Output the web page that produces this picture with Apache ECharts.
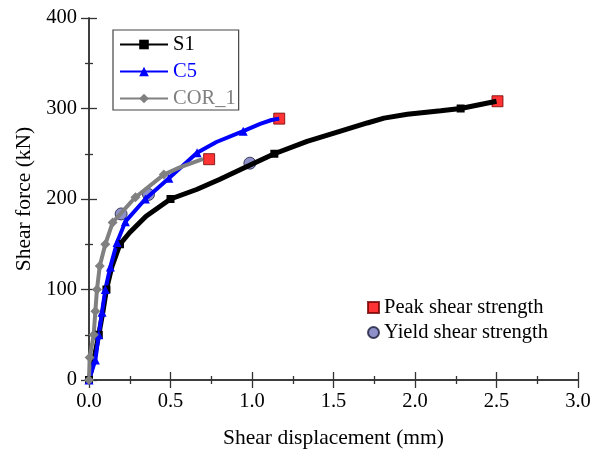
<!DOCTYPE html>
<html>
<head>
<meta charset="utf-8">
<script src="https://cdn.jsdelivr.net/npm/echarts@6/dist/echarts.min.js"></script>
<style>
  html, body { margin: 0; padding: 0; background: #fff; }
  #chart { width: 594px; height: 454px; }
</style>
</head>
<body>
<div id="chart"></div>
<script>
// curve points (mm, kN)
const s1X = [0, 0.035, 0.06, 0.085, 0.107, 0.14, 0.19, 0.25, 0.35, 0.5, 0.66, 0.8, 0.93, 1.137, 1.338, 1.543, 1.707, 1.81, 1.953, 2.158, 2.28, 2.5]
const s1Y = [0, 27, 50, 75, 100, 125, 150, 163, 181, 200, 210.5, 221.5, 232.5, 250, 263.7, 275, 284, 289.4, 293.6, 297.5, 300, 308]
const s1Marked = [0, 2, 4, 6, 9, 13, 20]

const c5X = [0, 0.039, 0.06, 0.08, 0.1, 0.131, 0.172, 0.223, 0.346, 0.49, 0.663, 0.782, 0.946, 1.05, 1.12, 1.167]
const c5Y = [0, 22, 50, 75, 100, 125, 152, 175, 200, 223, 251, 263, 275, 283, 287.3, 288.8]
const c5Marked = [0, 1, 2, 3, 4, 5, 6, 7, 8, 9, 10, 12]

const corX = [0, 0.004, 0.029, 0.039, 0.049, 0.066, 0.1, 0.145, 0.285, 0.459, 0.557, 0.68, 0.7]
const corY = [0, 25, 50, 76, 100, 126, 150, 174, 202, 227, 235, 243, 244]
const corMarked = [0, 1, 2, 3, 4, 5, 6, 7, 8, 9]

const peakX = [2.506, 1.167, 0.737]
const peakY = [308, 288.8, 244]
const yieldX = [0.987, 0.365, 0.197]
const yieldY = [239.6, 205, 183.5]

const xTicks = [0, 0.5, 1.0, 1.5, 2.0, 2.5, 3.0]
const yTicks = [0, 100, 200, 300, 400]

const FONT = 'Liberation Serif'

function curve(xs, ys, marked) {
  return xs.map((x, i) => marked.indexOf(i) >= 0 ? [x, ys[i]] : { value: [x, ys[i]], symbol: 'none' })
}

const axisLine = { show: true, lineStyle: { color: '#333', width: 1.5 } }
const tick = { show: true, length: 8, lineStyle: { color: '#333', width: 1.3 } }
const minor = { show: true, splitNumber: 2, length: 4, lineStyle: { color: '#333', width: 1.3 } }

const chart = echarts.init(document.getElementById('chart'))

chart.setOption({
  animation: false,
  grid: { left: 89, right: 16, top: 18, bottom: 72 },
  xAxis: [
    {
      type: 'value', min: xTicks[0], max: xTicks[xTicks.length - 1], interval: 0.5,
      axisLine, axisTick: tick, minorTick: minor, splitLine: { show: false },
      axisLabel: { margin: 11, color: '#000', fontFamily: FONT, fontSize: 20.5, formatter: v => v.toFixed(1) },
      name: 'Shear displacement (mm)', nameLocation: 'middle', nameGap: 47,
      nameTextStyle: { color: '#000', fontFamily: FONT, fontSize: 21.5 }
    },
    {
      type: 'value', position: 'top', min: 0, max: 3, interval: 0.5,
      axisLine, axisTick: tick, minorTick: minor, splitLine: { show: false },
      axisLabel: { show: false }
    }
  ],
  yAxis: [
    {
      type: 'value', min: yTicks[0], max: yTicks[yTicks.length - 1], interval: 100,
      axisLine, axisTick: tick, minorTick: minor, splitLine: { show: false },
      axisLabel: { margin: 12, color: '#000', fontFamily: FONT, fontSize: 20.5 },
      name: 'Shear force (kN)', nameLocation: 'middle', nameGap: 52,
      nameTextStyle: { color: '#000', fontFamily: FONT, fontSize: 21.5 }
    },
    {
      type: 'value', position: 'right', min: 0, max: 400, interval: 100,
      axisLine, axisTick: tick, minorTick: minor, splitLine: { show: false },
      axisLabel: { show: false }
    }
  ],
  legend: [
    {
      orient: 'vertical', left: 113, top: 30,
      padding: [4, 3, 1, 6], itemGap: 6, itemWidth: 48, itemHeight: 12, itemTextGap: 3,
      borderColor: '#444', borderWidth: 1.2,
      textStyle: { fontFamily: FONT, fontSize: 20.5 },
      data: [
        { name: 'S1', textStyle: { color: '#000' } },
        { name: 'C5', textStyle: { color: '#0000ff' } },
        { name: 'COR_1', textStyle: { color: '#808080' } }
      ]
    },
    {
      orient: 'vertical', left: 367, top: 297,
      itemGap: 4, itemWidth: 11, itemHeight: 11, itemTextGap: 7, padding: 0,
      textStyle: { fontFamily: FONT, fontSize: 20.5, color: '#000' },
      data: ['Peak shear strength', 'Yield shear strength']
    }
  ],
  series: [
    {
      name: 'S1', type: 'line', clip: false,
      symbol: 'rect', symbolSize: 8,
      lineStyle: { color: '#000', width: 5 }, itemStyle: { color: '#000' },
      data: curve(s1X, s1Y, s1Marked)
    },
    {
      name: 'C5', type: 'line', clip: false,
      symbol: 'triangle', symbolSize: 9,
      lineStyle: { color: '#0000ff', width: 4 }, itemStyle: { color: '#0000ff' },
      data: curve(c5X, c5Y, c5Marked)
    },
    {
      name: 'COR_1', type: 'line', clip: false,
      symbol: 'diamond', symbolSize: 10,
      lineStyle: { color: '#808080', width: 4 }, itemStyle: { color: '#808080' },
      data: curve(corX, corY, corMarked)
    },
    {
      name: 'Peak shear strength', type: 'scatter', clip: false,
      symbol: 'rect', symbolSize: 11,
      itemStyle: { color: '#ff0000', borderColor: '#700000', borderWidth: 1 },
      data: peakX.map((x, i) => [x, peakY[i]])
    },
    {
      name: 'Yield shear strength', type: 'scatter', clip: false,
      symbol: 'circle', symbolSize: 12,
      itemStyle: { color: '#7276bc', borderColor: '#1a1a3a', borderWidth: 1 },
      data: yieldX.map((x, i) => [x, yieldY[i]])
    }
  ]
})
</script>
</body>
</html>
